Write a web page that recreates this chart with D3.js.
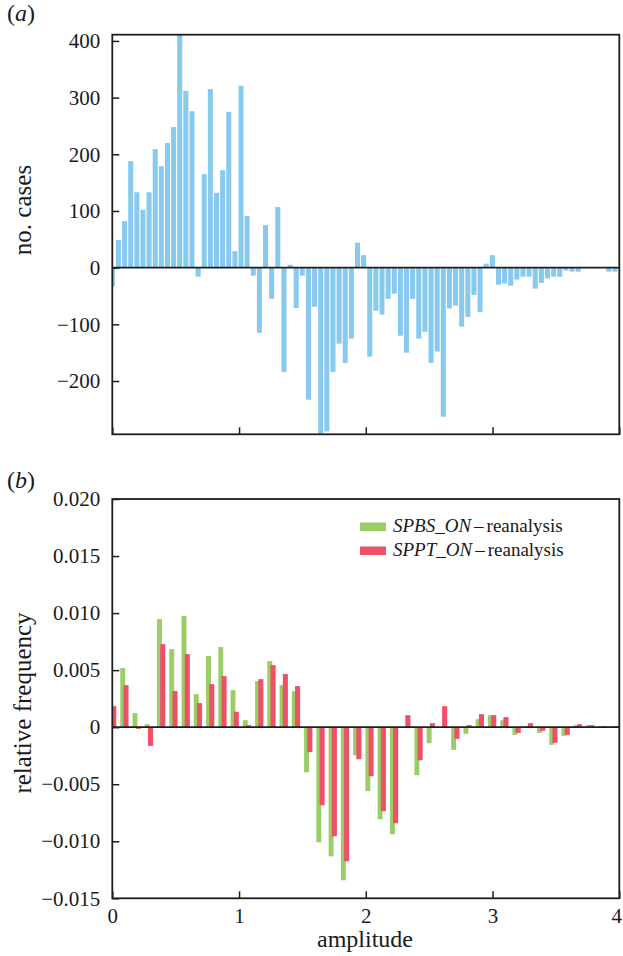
<!DOCTYPE html>
<html><head><meta charset="utf-8">
<script src="https://cdn.jsdelivr.net/npm/d3@7"></script>
<style>
body{margin:0;background:#fff}
svg{display:block}
text{font-family:"Liberation Serif","Times New Roman",serif;fill:#1a1a1a}
</style>
</head><body>
<svg id="chart" width="623" height="956"></svg>
<script>
// ---------- data ----------
// panel (a): number of cases per amplitude bin (difference)
const countsA = [-33, 49, 82, 188, 133, 102, 133, 209, 179, 220,
  248, 415, 312, 276, -16, 165, 315, 132, 172, 275,
  29, 321, 91, -14, -115, 75, -55, 107, -184, 5,
  -71, -14, -233, -69, -300, -289, -184, -134, -168, -125,
  44, 22, -157, -76, -83, -55, -46, -120, -150, -55,
  -125, -113, -168, -148, -263, -72, -67, -104, -87, -48,
  -78, 7, 22, -30, -28, -32, -21, -16, -16, -37,
  -27, -19, -16, -16, -5, -7, -7, -1, -1, -1,
  0, -7, -7];
// panel (b): relative frequency differences
const seriesNames = ["SPBS_ON", "SPPT_ON"];
const spbs = [0, 0.00518, 0.00123, 0.00026, 0.00947, 0.00684, 0.00974, 0.00289, 0.00623, 0.00702,
  0.00325, 0.00061, 0.00404, 0.00579, 0.00368, 0.00316, -0.00395, -0.01009, -0.01132, -0.01342,
  -0.00246, -0.00561, -0.00807, -0.00939, 0, -0.00421, -0.0014, 0, -0.00199, -0.00058,
  0.0007, 0.00105, 0.00061, -0.00067, 0.0001, -0.0005, -0.00155, -0.00076, 0.00018, 0.00018,
  0.0001, 0.0001];
const sppt = [0.00184, 0.00368, -0.00015, -0.00164, 0.00728, 0.00316, 0.0064, 0.00211, 0.00377, 0.00447,
  0.00135, 0.00018, 0.00421, 0.00544, 0.00465, 0.0036, -0.00219, -0.00684, -0.00956, -0.01175,
  -0.00281, -0.0043, -0.00737, -0.00842, 0.00105, -0.0029, 0.00035, 0.00184, -0.00102, 0.00018,
  0.00114, 0.00105, 0.00088, -0.0005, 0.00035, -0.00032, -0.00137, -0.00067, 0.00026, 0.00018,
  0.0001, 0.0001];
const ticksA = [400, 300, 200, 100, 0, -100, -200];
const ticksB = [0.020, 0.015, 0.010, 0.005, 0, -0.005, -0.010, -0.015];
const ticksX = [0, 1, 2, 3, 4];
const binA = 0.04836;   // amplitude bin width, panel (a)
const binB = 0.0967;    // amplitude bin width, panel (b)

// ---------- layout ----------
const svg = d3.select("#chart");
const L = 112.3, R = 619.3;
const A = {top: 34.7, bottom: 434.3};
const B = {top: 499, bottom: 898.3};
const blue = "#88c9ee", green = "#99cd66", red = "#ee5068", ink = "#1e1e1e";

const x = d3.scaleLinear().domain([0, 4]).range([L, R]);
const yA = d3.scaleLinear().domain([-294, 411]).range([A.bottom, A.top]);
const yB = d3.scaleLinear().domain([-0.015, 0.020]).range([B.bottom, B.top]);

const defs = svg.append("defs");
defs.append("clipPath").attr("id", "clipA").append("rect")
  .attr("x", L).attr("y", A.top).attr("width", R - L).attr("height", A.bottom - A.top);
defs.append("clipPath").attr("id", "clipB").append("rect")
  .attr("x", L).attr("y", B.top).attr("width", R - L).attr("height", B.bottom - B.top);

// ---------- panel (a) ----------
const stepA = x(binA) - x(0);
const gA = svg.append("g").attr("clip-path", "url(#clipA)");
gA.selectAll("rect").data(countsA).join("rect")
  .attr("x", (d, i) => x(i * binA) - stepA * 0.41)
  .attr("width", stepA * 0.82)
  .attr("y", d => yA(Math.max(0, d)))
  .attr("height", d => Math.abs(yA(d) - yA(0)))
  .attr("fill", blue);
svg.append("line").attr("x1", L).attr("x2", R).attr("y1", yA(0)).attr("y2", yA(0))
  .attr("stroke", ink).attr("stroke-width", 1.7);

const fmtA = d => d < 0 ? "\u2212" + Math.abs(d) : String(d);
svg.append("g").attr("transform", `translate(${L},0)`)
  .call(d3.axisLeft(yA).tickValues(ticksA).tickFormat(fmtA).tickSizeInner(-7).tickSizeOuter(0).tickPadding(12));
svg.append("g").attr("transform", `translate(0,${A.bottom})`)
  .call(d3.axisBottom(x).tickValues(ticksX).tickFormat("").tickSizeInner(-7).tickSizeOuter(0));

svg.append("rect").attr("x", L).attr("y", A.top).attr("width", R - L).attr("height", A.bottom - A.top)
  .attr("fill", "none").attr("stroke", ink).attr("stroke-width", 1.8);

// ---------- panel (b) ----------
const stepB = x(binB) - x(0);
const gB = svg.append("g").attr("clip-path", "url(#clipB)");
gB.selectAll("rect.g").data(spbs).join("rect").attr("class", "g")
  .attr("x", (d, i) => x(i * binB) - stepB * 0.35)
  .attr("width", stepB * 0.40)
  .attr("y", d => yB(Math.max(0, d)))
  .attr("height", d => Math.abs(yB(d) - yB(0)))
  .attr("fill", green);
gB.selectAll("rect.r").data(sppt).join("rect").attr("class", "r")
  .attr("x", (d, i) => x(i * binB) - stepB * 0.09)
  .attr("width", stepB * 0.415)
  .attr("y", d => yB(Math.max(0, d)))
  .attr("height", d => Math.abs(yB(d) - yB(0)))
  .attr("fill", red);
svg.append("line").attr("x1", L).attr("x2", R).attr("y1", yB(0)).attr("y2", yB(0))
  .attr("stroke", ink).attr("stroke-width", 1.7);

const fmtB = d => d === 0 ? "0" : (d < 0 ? "\u2212" : "") + Math.abs(d).toFixed(3);
svg.append("g").attr("transform", `translate(${L},0)`)
  .call(d3.axisLeft(yB).tickValues(ticksB).tickFormat(fmtB).tickSizeInner(-7).tickSizeOuter(0).tickPadding(12));
const axBx = svg.append("g").attr("transform", `translate(0,${B.bottom})`)
  .call(d3.axisBottom(x).tickValues(ticksX).tickFormat(d3.format("d")).tickSizeInner(-7).tickSizeOuter(0).tickPadding(10));
// keep the last label inside the picture
axBx.selectAll(".tick text").filter(d => d === 4).attr("dx", -3);

svg.append("rect").attr("x", L).attr("y", B.top).attr("width", R - L).attr("height", B.bottom - B.top)
  .attr("fill", "none").attr("stroke", ink).attr("stroke-width", 1.8);

// axis styling
svg.selectAll(".domain").remove();
svg.selectAll(".tick line").attr("stroke", ink).attr("stroke-width", 1.5);
svg.selectAll(".tick text").attr("font-size", 21)
  .attr("font-family", "'Liberation Serif','Times New Roman',serif").attr("fill", "#1a1a1a");

// ---------- labels ----------
svg.append("text").attr("x", 7).attr("y", 21).attr("font-size", 24)
  .html('(<tspan font-style="italic">a</tspan>)');
svg.append("text").attr("x", 7).attr("y", 488).attr("font-size", 24)
  .html('(<tspan font-style="italic">b</tspan>)');

svg.append("text").attr("transform", `translate(31,210) rotate(-90)`)
  .attr("text-anchor", "middle").attr("font-size", 25).text("no. cases");
svg.append("text").attr("transform", `translate(31,703) rotate(-90)`)
  .attr("text-anchor", "middle").attr("font-size", 25).text("relative frequency");
svg.append("text").attr("x", 365).attr("y", 947)
  .attr("text-anchor", "middle").attr("font-size", 24).text("amplitude");

// legend
const legend = svg.append("g");
[[seriesNames[0], green, 0], [seriesNames[1], red, 1]].forEach(([name, col, i]) => {
  const yy = 532 + i * 24;
  legend.append("rect").attr("x", 360).attr("y", yy - 9.5).attr("width", 26).attr("height", 8.5).attr("fill", col);
  const t = legend.append("text").attr("x", 393).attr("y", yy).attr("font-size", 19);
  t.append("tspan").attr("font-style", "italic").text(name);
  t.append("tspan").attr("dx", 3).text("\u2013");
  t.append("tspan").attr("dx", 3).text("reanalysis");
});
</script>
</body></html>
